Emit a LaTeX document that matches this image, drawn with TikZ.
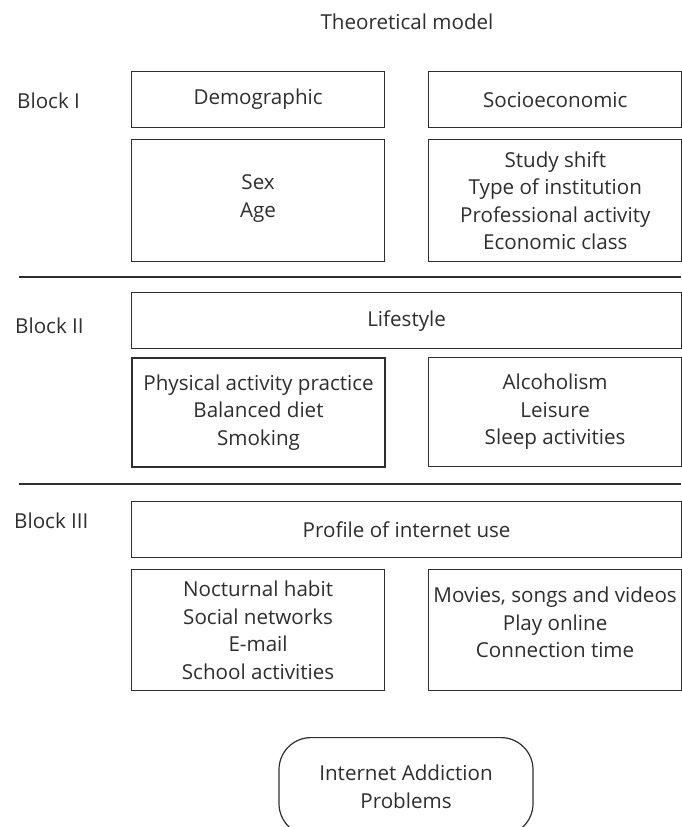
\documentclass[tikz,border=0pt]{standalone}
\usepackage{fontspec}
\setmainfont{Open Sans}
\usepackage{xcolor}
\usetikzlibrary{positioning}
\definecolor{inkgray}{HTML}{2E2E2E}

\begin{document}
\begin{tikzpicture}[
    x=1pt, y=-1pt,
    font=\fontsize{20.6}{27.5}\selectfont,
    box/.style={draw=inkgray, line width=1.2pt, text=inkgray, align=center, inner sep=0pt, minimum width=253pt},
    headbox/.style={box, minimum height=56pt},
    itembox/.style={box, minimum height=122pt},
    widebox/.style={box, minimum width=550pt, minimum height=56pt},
    blocklabel/.style={text=inkgray, anchor=west, inner sep=0pt},
    sepline/.style={draw=inkgray, line width=1.2pt}
]
\useasboundingbox (0,0) rectangle (682,827);
\clip (0,0) rectangle (682,827);

\node[text=inkgray] (title) at (407,22) {Theoretical model};

% Block I
\node[blocklabel] (blockone) at (17,101) {Block I};
\node[headbox, anchor=north west] (demo) at (131,71) {Demographic};
\node[headbox, right=43pt of demo] (socio) {Socioeconomic};
\node[itembox, below=11pt of demo] (sexage) {Sex\\Age\\[-18pt]};
\node[itembox, below=11pt of socio] (shift) {Study shift\\Type of institution\\Professional activity\\Economic class};
\draw[sepline] (19,277) -- (681,277);

% Block II
\node[blocklabel] (blocktwo) at (15,326) {Block II};
\node[widebox, anchor=north west] (life) at (131,292) {Lifestyle};
\node[box, minimum height=109pt, line width=2pt, anchor=north west] (physical) at (131,357) {Physical activity practice\\Balanced diet\\Smoking};
\node[box, minimum height=109pt, anchor=north west] (alcohol) at (428,357) {Alcoholism\\Leisure\\Sleep activities};
\draw[sepline] (19,484) -- (681,484);

% Block III
\node[blocklabel] (blockthree) at (14,521) {Block III};
\node[widebox, anchor=north west] (profile) at (131,501) {Profile of internet use};
\node[itembox, minimum height=121pt, below=11pt of profile.south west, anchor=north west] (nocturnal) {Nocturnal habit\\Social networks\\E-mail\\School activities};
\node[itembox, minimum height=121pt, below=11pt of profile.south east, anchor=north east] (movies) {Movies, songs and videos\\Play online\\Connection time\\[-12pt]};

\node[box, minimum width=254pt, minimum height=98pt, rounded corners=32pt, anchor=north] (addiction) at (406,737) {Internet Addiction\\Problems};
\end{tikzpicture}
\end{document}
